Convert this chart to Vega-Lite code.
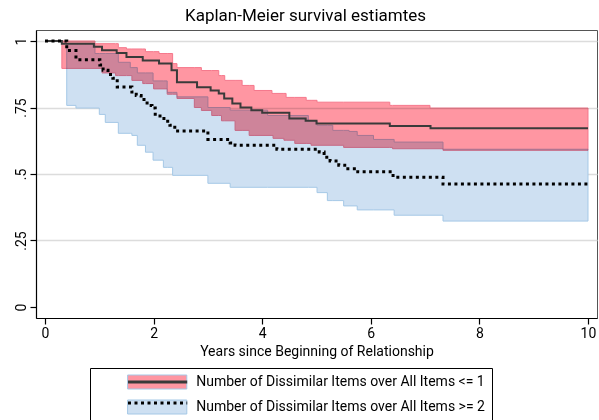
{
  "$schema": "https://vega.github.io/schema/vega-lite/v6.json",
  "width": 561,
  "height": 288,
  "autosize": {"type": "none"},
  "padding": {"left": 36, "top": 30, "right": 2, "bottom": 102},
  "background": "white",
  "title": {"text": "Kaplan-Meier survival estiamtes", "fontSize": 17, "font": "Roboto", "fontWeight": "normal", "color": "#000", "anchor": "middle", "frame": "bounds", "offset": 5},
  "config": {
    "font": "Roboto",
    "view": {"stroke": "#555", "strokeWidth": 1},
    "axis": {"domainColor": "#000", "domainWidth": 1.2, "tickColor": "#000", "tickWidth": 1.2, "tickSize": 6, "labelColor": "#000", "titleColor": "#000", "labelFont": "Roboto", "titleFont": "Roboto", "titleFontWeight": "normal", "labelFontSize": 14, "titleFontSize": 14}
  },
  "datasets": {
    "km": [
      {"group": "Number of Dissimilar Items over All Items <= 1", "t": 0, "s": 1},
      {"group": "Number of Dissimilar Items over All Items <= 1", "t": 0.31, "s": 0.99},
      {"group": "Number of Dissimilar Items over All Items <= 1", "t": 0.9, "s": 0.978},
      {"group": "Number of Dissimilar Items over All Items <= 1", "t": 1.05, "s": 0.965},
      {"group": "Number of Dissimilar Items over All Items <= 1", "t": 1.32, "s": 0.955},
      {"group": "Number of Dissimilar Items over All Items <= 1", "t": 1.5, "s": 0.94},
      {"group": "Number of Dissimilar Items over All Items <= 1", "t": 1.8, "s": 0.927},
      {"group": "Number of Dissimilar Items over All Items <= 1", "t": 2.1, "s": 0.915},
      {"group": "Number of Dissimilar Items over All Items <= 1", "t": 2.33, "s": 0.89},
      {"group": "Number of Dissimilar Items over All Items <= 1", "t": 2.43, "s": 0.845},
      {"group": "Number of Dissimilar Items over All Items <= 1", "t": 2.8, "s": 0.826},
      {"group": "Number of Dissimilar Items over All Items <= 1", "t": 3.05, "s": 0.814},
      {"group": "Number of Dissimilar Items over All Items <= 1", "t": 3.2, "s": 0.803},
      {"group": "Number of Dissimilar Items over All Items <= 1", "t": 3.3, "s": 0.784},
      {"group": "Number of Dissimilar Items over All Items <= 1", "t": 3.45, "s": 0.765},
      {"group": "Number of Dissimilar Items over All Items <= 1", "t": 3.6, "s": 0.75},
      {"group": "Number of Dissimilar Items over All Items <= 1", "t": 3.8, "s": 0.74},
      {"group": "Number of Dissimilar Items over All Items <= 1", "t": 4.0, "s": 0.73},
      {"group": "Number of Dissimilar Items over All Items <= 1", "t": 4.5, "s": 0.709},
      {"group": "Number of Dissimilar Items over All Items <= 1", "t": 4.8, "s": 0.7},
      {"group": "Number of Dissimilar Items over All Items <= 1", "t": 5.0, "s": 0.69},
      {"group": "Number of Dissimilar Items over All Items <= 1", "t": 6.35, "s": 0.68},
      {"group": "Number of Dissimilar Items over All Items <= 1", "t": 7.1, "s": 0.672},
      {"group": "Number of Dissimilar Items over All Items <= 1", "t": 10, "s": 0.672},
      {"group": "Number of Dissimilar Items over All Items >= 2", "t": 0, "s": 1},
      {"group": "Number of Dissimilar Items over All Items >= 2", "t": 0.4, "s": 0.964},
      {"group": "Number of Dissimilar Items over All Items >= 2", "t": 0.57, "s": 0.93},
      {"group": "Number of Dissimilar Items over All Items >= 2", "t": 1.01, "s": 0.91},
      {"group": "Number of Dissimilar Items over All Items >= 2", "t": 1.07, "s": 0.89},
      {"group": "Number of Dissimilar Items over All Items >= 2", "t": 1.16, "s": 0.874},
      {"group": "Number of Dissimilar Items over All Items >= 2", "t": 1.25, "s": 0.86},
      {"group": "Number of Dissimilar Items over All Items >= 2", "t": 1.33, "s": 0.827},
      {"group": "Number of Dissimilar Items over All Items >= 2", "t": 1.6, "s": 0.808},
      {"group": "Number of Dissimilar Items over All Items >= 2", "t": 1.68, "s": 0.795},
      {"group": "Number of Dissimilar Items over All Items >= 2", "t": 1.77, "s": 0.78},
      {"group": "Number of Dissimilar Items over All Items >= 2", "t": 1.88, "s": 0.758},
      {"group": "Number of Dissimilar Items over All Items >= 2", "t": 1.97, "s": 0.748},
      {"group": "Number of Dissimilar Items over All Items >= 2", "t": 2.03, "s": 0.718},
      {"group": "Number of Dissimilar Items over All Items >= 2", "t": 2.19, "s": 0.698},
      {"group": "Number of Dissimilar Items over All Items >= 2", "t": 2.3, "s": 0.683},
      {"group": "Number of Dissimilar Items over All Items >= 2", "t": 2.39, "s": 0.662},
      {"group": "Number of Dissimilar Items over All Items >= 2", "t": 3.0, "s": 0.63},
      {"group": "Number of Dissimilar Items over All Items >= 2", "t": 3.41, "s": 0.617},
      {"group": "Number of Dissimilar Items over All Items >= 2", "t": 3.5, "s": 0.608},
      {"group": "Number of Dissimilar Items over All Items >= 2", "t": 4.27, "s": 0.593},
      {"group": "Number of Dissimilar Items over All Items >= 2", "t": 5.05, "s": 0.583},
      {"group": "Number of Dissimilar Items over All Items >= 2", "t": 5.14, "s": 0.563},
      {"group": "Number of Dissimilar Items over All Items >= 2", "t": 5.25, "s": 0.549},
      {"group": "Number of Dissimilar Items over All Items >= 2", "t": 5.41, "s": 0.533},
      {"group": "Number of Dissimilar Items over All Items >= 2", "t": 5.52, "s": 0.52},
      {"group": "Number of Dissimilar Items over All Items >= 2", "t": 5.76, "s": 0.508},
      {"group": "Number of Dissimilar Items over All Items >= 2", "t": 6.41, "s": 0.488},
      {"group": "Number of Dissimilar Items over All Items >= 2", "t": 7.33, "s": 0.462},
      {"group": "Number of Dissimilar Items over All Items >= 2", "t": 10, "s": 0.462}
    ],
    "ci": [
      {"group": "Number of Dissimilar Items over All Items <= 1", "t": 0.31, "lo": 0.897, "hi": 1.0},
      {"group": "Number of Dissimilar Items over All Items <= 1", "t": 0.92, "lo": 0.897, "hi": 0.99},
      {"group": "Number of Dissimilar Items over All Items <= 1", "t": 1.05, "lo": 0.88, "hi": 0.99},
      {"group": "Number of Dissimilar Items over All Items <= 1", "t": 1.3, "lo": 0.87, "hi": 0.99},
      {"group": "Number of Dissimilar Items over All Items <= 1", "t": 1.35, "lo": 0.87, "hi": 0.975},
      {"group": "Number of Dissimilar Items over All Items <= 1", "t": 1.5, "lo": 0.87, "hi": 0.97},
      {"group": "Number of Dissimilar Items over All Items <= 1", "t": 1.6, "lo": 0.852, "hi": 0.97},
      {"group": "Number of Dissimilar Items over All Items <= 1", "t": 1.8, "lo": 0.84, "hi": 0.97},
      {"group": "Number of Dissimilar Items over All Items <= 1", "t": 1.85, "lo": 0.84, "hi": 0.96},
      {"group": "Number of Dissimilar Items over All Items <= 1", "t": 2.0, "lo": 0.82, "hi": 0.96},
      {"group": "Number of Dissimilar Items over All Items <= 1", "t": 2.1, "lo": 0.82, "hi": 0.953},
      {"group": "Number of Dissimilar Items over All Items <= 1", "t": 2.25, "lo": 0.8, "hi": 0.953},
      {"group": "Number of Dissimilar Items over All Items <= 1", "t": 2.35, "lo": 0.8, "hi": 0.915},
      {"group": "Number of Dissimilar Items over All Items <= 1", "t": 2.43, "lo": 0.784, "hi": 0.9},
      {"group": "Number of Dissimilar Items over All Items <= 1", "t": 2.75, "lo": 0.75, "hi": 0.9},
      {"group": "Number of Dissimilar Items over All Items <= 1", "t": 2.88, "lo": 0.739, "hi": 0.889},
      {"group": "Number of Dissimilar Items over All Items <= 1", "t": 3.07, "lo": 0.72, "hi": 0.889},
      {"group": "Number of Dissimilar Items over All Items <= 1", "t": 3.2, "lo": 0.72, "hi": 0.87},
      {"group": "Number of Dissimilar Items over All Items <= 1", "t": 3.25, "lo": 0.7, "hi": 0.87},
      {"group": "Number of Dissimilar Items over All Items <= 1", "t": 3.31, "lo": 0.7, "hi": 0.852},
      {"group": "Number of Dissimilar Items over All Items <= 1", "t": 3.5, "lo": 0.664, "hi": 0.852},
      {"group": "Number of Dissimilar Items over All Items <= 1", "t": 3.63, "lo": 0.664, "hi": 0.833},
      {"group": "Number of Dissimilar Items over All Items <= 1", "t": 3.76, "lo": 0.645, "hi": 0.833},
      {"group": "Number of Dissimilar Items over All Items <= 1", "t": 3.85, "lo": 0.645, "hi": 0.814},
      {"group": "Number of Dissimilar Items over All Items <= 1", "t": 4.18, "lo": 0.645, "hi": 0.803},
      {"group": "Number of Dissimilar Items over All Items <= 1", "t": 4.2, "lo": 0.634, "hi": 0.803},
      {"group": "Number of Dissimilar Items over All Items <= 1", "t": 4.4, "lo": 0.627, "hi": 0.803},
      {"group": "Number of Dissimilar Items over All Items <= 1", "t": 4.44, "lo": 0.627, "hi": 0.788},
      {"group": "Number of Dissimilar Items over All Items <= 1", "t": 4.6, "lo": 0.615, "hi": 0.788},
      {"group": "Number of Dissimilar Items over All Items <= 1", "t": 4.81, "lo": 0.615, "hi": 0.777},
      {"group": "Number of Dissimilar Items over All Items <= 1", "t": 4.9, "lo": 0.608, "hi": 0.777},
      {"group": "Number of Dissimilar Items over All Items <= 1", "t": 5.01, "lo": 0.608, "hi": 0.77},
      {"group": "Number of Dissimilar Items over All Items <= 1", "t": 5.5, "lo": 0.6, "hi": 0.77},
      {"group": "Number of Dissimilar Items over All Items <= 1", "t": 6.35, "lo": 0.6, "hi": 0.758},
      {"group": "Number of Dissimilar Items over All Items <= 1", "t": 6.4, "lo": 0.595, "hi": 0.758},
      {"group": "Number of Dissimilar Items over All Items <= 1", "t": 7.09, "lo": 0.595, "hi": 0.748},
      {"group": "Number of Dissimilar Items over All Items <= 1", "t": 7.33, "lo": 0.589, "hi": 0.748},
      {"group": "Number of Dissimilar Items over All Items <= 1", "t": 10, "lo": 0.589, "hi": 0.748},
      {"group": "Number of Dissimilar Items over All Items >= 2", "t": 0.4, "lo": 0.758, "hi": 0.99},
      {"group": "Number of Dissimilar Items over All Items >= 2", "t": 0.57, "lo": 0.748, "hi": 0.99},
      {"group": "Number of Dissimilar Items over All Items >= 2", "t": 0.92, "lo": 0.748, "hi": 0.953},
      {"group": "Number of Dissimilar Items over All Items >= 2", "t": 1.0, "lo": 0.724, "hi": 0.953},
      {"group": "Number of Dissimilar Items over All Items >= 2", "t": 1.11, "lo": 0.694, "hi": 0.953},
      {"group": "Number of Dissimilar Items over All Items >= 2", "t": 1.35, "lo": 0.653, "hi": 0.92},
      {"group": "Number of Dissimilar Items over All Items >= 2", "t": 1.57, "lo": 0.653, "hi": 0.9},
      {"group": "Number of Dissimilar Items over All Items >= 2", "t": 1.6, "lo": 0.645, "hi": 0.9},
      {"group": "Number of Dissimilar Items over All Items >= 2", "t": 1.7, "lo": 0.608, "hi": 0.88},
      {"group": "Number of Dissimilar Items over All Items >= 2", "t": 1.85, "lo": 0.582, "hi": 0.88},
      {"group": "Number of Dissimilar Items over All Items >= 2", "t": 1.99, "lo": 0.552, "hi": 0.85},
      {"group": "Number of Dissimilar Items over All Items >= 2", "t": 2.18, "lo": 0.525, "hi": 0.85},
      {"group": "Number of Dissimilar Items over All Items >= 2", "t": 2.25, "lo": 0.525, "hi": 0.807},
      {"group": "Number of Dissimilar Items over All Items >= 2", "t": 2.35, "lo": 0.495, "hi": 0.807},
      {"group": "Number of Dissimilar Items over All Items >= 2", "t": 2.43, "lo": 0.495, "hi": 0.79},
      {"group": "Number of Dissimilar Items over All Items >= 2", "t": 3.0, "lo": 0.465, "hi": 0.75},
      {"group": "Number of Dissimilar Items over All Items >= 2", "t": 3.41, "lo": 0.45, "hi": 0.74},
      {"group": "Number of Dissimilar Items over All Items >= 2", "t": 4.1, "lo": 0.45, "hi": 0.72},
      {"group": "Number of Dissimilar Items over All Items >= 2", "t": 4.85, "lo": 0.45, "hi": 0.7},
      {"group": "Number of Dissimilar Items over All Items >= 2", "t": 5.01, "lo": 0.43, "hi": 0.683},
      {"group": "Number of Dissimilar Items over All Items >= 2", "t": 5.2, "lo": 0.4, "hi": 0.683},
      {"group": "Number of Dissimilar Items over All Items >= 2", "t": 5.3, "lo": 0.4, "hi": 0.664},
      {"group": "Number of Dissimilar Items over All Items >= 2", "t": 5.5, "lo": 0.38, "hi": 0.664},
      {"group": "Number of Dissimilar Items over All Items >= 2", "t": 5.6, "lo": 0.38, "hi": 0.66},
      {"group": "Number of Dissimilar Items over All Items >= 2", "t": 5.75, "lo": 0.365, "hi": 0.645},
      {"group": "Number of Dissimilar Items over All Items >= 2", "t": 6.05, "lo": 0.365, "hi": 0.63},
      {"group": "Number of Dissimilar Items over All Items >= 2", "t": 6.43, "lo": 0.345, "hi": 0.62},
      {"group": "Number of Dissimilar Items over All Items >= 2", "t": 7.33, "lo": 0.323, "hi": 0.593},
      {"group": "Number of Dissimilar Items over All Items >= 2", "t": 10, "lo": 0.323, "hi": 0.593}
    ]
  },
  "layer": [
    {
      "data": {"name": "ci"},
      "transform": [{"filter": "indexof(datum.group, '>=') >= 0"}],
      "mark": {"type": "area", "interpolate": "step-after", "stroke": "#a5c8e6", "strokeWidth": 1},
      "encoding": {
        "x": {"field": "t", "type": "quantitative", "scale": {"domain": [-0.166, 10.166], "nice": false, "zero": false},
          "axis": {"values": [0, 2, 4, 6, 8, 10], "format": "d", "title": "Years since Beginning of Relationship", "grid": false, "labelPadding": 2, "titlePadding": 4}},
        "y": {"field": "hi", "type": "quantitative", "scale": {"domain": [-0.0414, 1.0414], "nice": false, "zero": false},
          "axis": {"values": [0, 0.25, 0.5, 0.75, 1], "title": null, "grid": true, "gridWidth": 1.5,
            "gridColor": {"condition": {"test": "datum.value === 0", "value": "transparent"}, "value": "#dcdcdc"},
            "labelAngle": 270, "labelAlign": "center", "labelBaseline": "alphabetic", "labelPadding": 5,
            "labelExpr": "datum.value === 0 ? '0' : datum.value === 1 ? '1' : replace(format(datum.value, ''), '0.', '.')"}},
        "y2": {"field": "lo"},
        "fill": {"field": "group", "type": "nominal",
          "scale": {"range": ["#ff96a2", "#cee0f2"]},
          "legend": {"orient": "none", "legendX": 54, "legendY": 338, "title": "MM", "titleOrient": "left", "titleOpacity": 0, "titleFontSize": 14, "titleFont": "Roboto", "titlePadding": 5.6,
            "direction": "vertical", "padding": 7, "strokeColor": "#000",
            "symbolType": "M-7.4,-1.75H7.4V1.75H-7.4Z", "symbolSize": 64, "symbolStrokeWidth": 1, "symbolOffset": 22.6, "symbolOpacity": 1,
            "labelOffset": 32, "labelLimit": 0, "labelFont": "Roboto", "labelFontSize": 14, "labelColor": "#000", "rowPadding": 7, "zindex": 1,
            "labelExpr": "datum.label + '\u00a0\u00a0\u00a0\u00a0\u00a0\u00a0\u00a0\u00a0\u00a0\u00a0\u00a0\u00a0'",
            "encode": {"symbols": {"update": {"stroke": {"signal": "indexof(datum.value, '<=') >= 0 ? '#f5788c' : '#a5c8e6'"}}}}}}
      }
    },
    {
      "data": {"name": "ci"},
      "transform": [{"filter": "indexof(datum.group, '<=') >= 0"}],
      "mark": {"type": "area", "interpolate": "step-after", "stroke": "#f5788c", "strokeWidth": 1, "blend": "multiply"},
      "encoding": {
        "x": {"field": "t", "type": "quantitative"},
        "y": {"field": "hi", "type": "quantitative"},
        "y2": {"field": "lo"},
        "fill": {"field": "group", "type": "nominal"}
      }
    },
    {
      "data": {"name": "km"},
      "mark": {"type": "line", "interpolate": "step-after"},
      "encoding": {
        "x": {"field": "t", "type": "quantitative"},
        "y": {"field": "s", "type": "quantitative"},
        "stroke": {"field": "group", "type": "nominal",
          "scale": {"domain": ["Number of Dissimilar Items over All Items <= 1", "Number of Dissimilar Items over All Items >= 2"], "range": ["#3a3a3a", "#000000"]},
          "legend": {"orient": "none", "legendX": 92, "legendY": 345, "title": null,
            "direction": "vertical", "padding": 0,
            "symbolType": "M-7.4,0H7.4", "symbolSize": 64, "symbolStrokeWidth": 3, "symbolOffset": 22.6,
            "labelOffset": -20, "labelLimit": 0, "labelFont": "Roboto", "labelFontSize": 14, "labelOpacity": 0, "labelExpr": "'.'", "rowPadding": 7, "zindex": 2}},
        "strokeDash": {"field": "group", "type": "nominal",
          "scale": {"domain": ["Number of Dissimilar Items over All Items <= 1", "Number of Dissimilar Items over All Items >= 2"], "range": [[1, 0], [3, 3.5]]}},
        "strokeWidth": {"condition": {"test": "indexof(datum.group, '>=') >= 0", "value": 3}, "value": 2}
      }
    }
  ]
}
